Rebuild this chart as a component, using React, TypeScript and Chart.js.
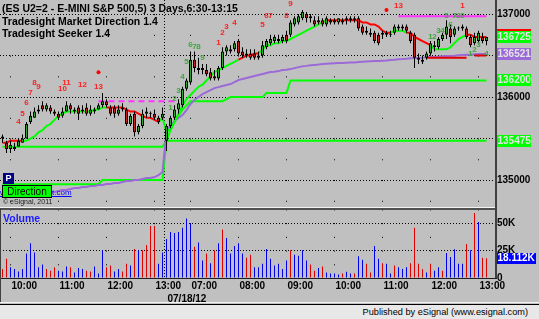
import React, { useEffect, useRef } from 'react';
import { Chart, registerables } from 'chart.js';

Chart.register(...registerables);

const FONT = '"Liberation Sans", Arial, Helvetica, sans-serif';

// ---------- time axis (bar index positions) ----------
const hourTickIdx = [2, 14, 26, 38, 47, 59, 71, 83, 95, 107, 119];
const hourTickLabels = ['10:00', '11:00', '12:00', '13:00', '07:00', '08:00', '09:00', '10:00', '11:00', '12:00', '13:00'];
const dayBreakIdx = 40.5;
const dateTickIdx = 41;
const dateLabel = '07/18/12';
const priceTicks = [135000, 135500, 136000, 136500, 137000];
const volumeTicks = [0, 25000, 50000];

// ---------- OHLC (5 min bars) ----------
const openP = [
  135500, 135450, 135375, 135400, 135400, 135450, 135500, 135700, 135750, 135825,
  135900, 135850, 135875, 135825, 135800, 135775, 135825, 135900, 135850, 135875,
  135825, 135875, 135800, 135850, 135850, 135900, 135950, 135875, 135875, 135800,
  135850, 135850, 135675, 135800, 135575, 135650, 135800, 135800, 135800, 135750,
  135750,
  135475, 135650, 135750, 135850, 135900, 136100, 136175, 136450, 136350, 136325,
  136325, 136300, 136250, 136225, 136350, 136550, 136575, 136575, 136675, 136550,
  136525, 136525, 136525, 136475, 136500, 136600, 136650, 136675, 136700, 136675,
  136750, 136750, 136875, 136900, 136950, 137000, 136975, 136925, 136925, 136925,
  136875, 136900, 136925, 136900, 136925, 136925, 136950, 136925, 136950, 136850,
  136800, 136775, 136775, 136750, 136750, 136775, 136750, 136775, 136825, 136850,
  136850, 136775, 136750, 136475, 136450, 136475, 136525, 136625, 136600, 136700,
  136750, 136825, 136750, 136825, 136825, 136825, 136725, 136650, 136675, 136725,
  136675,
];
const highP = [
  135550, 135475, 135475, 135450, 135500, 135550, 135700, 135825, 135875, 135900,
  135950, 135925, 135900, 135850, 135825, 135875, 135950, 135925, 135875, 135900,
  135900, 135925, 135900, 135875, 135925, 136050, 135975, 135900, 135900, 135900,
  135925, 135875, 135800, 135825, 135675, 135850, 135875, 135825, 135850, 135775,
  135875,
  135675, 135775, 135900, 135975, 136125, 136225, 136550, 136550, 136475, 136400,
  136400, 136350, 136325, 136375, 136600, 136625, 136625, 136675, 136700, 136600,
  136575, 136575, 136575, 136550, 136675, 136700, 136750, 136750, 136750, 136750,
  136800, 136925, 136975, 137000, 137050, 137025, 137000, 136975, 136975, 136950,
  136975, 136950, 136950, 136950, 136950, 136975, 136975, 136975, 136975, 136875,
  136850, 136825, 136800, 136775, 136800, 136800, 136800, 136875, 136875, 136875,
  136875, 136800, 136775, 136525, 136500, 136550, 136675, 136675, 136725, 136775,
  136925, 136875, 136850, 136850, 136875, 136850, 136750, 136775, 136800, 136775,
  136725,
];
const lowP = [
  135450, 135325, 135325, 135350, 135400, 135450, 135500, 135675, 135750, 135800,
  135825, 135825, 135800, 135775, 135725, 135750, 135825, 135800, 135800, 135725,
  135800, 135775, 135775, 135800, 135850, 135875, 135875, 135775, 135750, 135775,
  135825, 135650, 135650, 135525, 135550, 135625, 135750, 135750, 135725, 135675,
  135725,
  135350, 135625, 135725, 135800, 135875, 136075, 136150, 136300, 136275, 136275,
  136250, 136200, 136200, 136200, 136325, 136500, 136525, 136550, 136500, 136475,
  136475, 136450, 136450, 136450, 136475, 136575, 136625, 136650, 136650, 136650,
  136650, 136725, 136850, 136875, 136925, 136900, 136900, 136850, 136875, 136850,
  136850, 136875, 136875, 136875, 136875, 136875, 136900, 136900, 136800, 136750,
  136750, 136725, 136650, 136625, 136700, 136725, 136725, 136750, 136800, 136800,
  136775, 136650, 136350, 136400, 136400, 136450, 136500, 136550, 136575, 136675,
  136700, 136650, 136725, 136800, 136800, 136700, 136600, 136625, 136650, 136650,
  136625,
];
const closeP = [
  135525, 135375, 135425, 135375, 135475, 135500, 135675, 135775, 135825, 135850,
  135850, 135900, 135825, 135800, 135750, 135825, 135900, 135850, 135825, 135800,
  135850, 135800, 135850, 135825, 135900, 135950, 135900, 135800, 135800, 135850,
  135875, 135675, 135775, 135575, 135650, 135800, 135825, 135800, 135750, 135700,
  135800,
  135650, 135750, 135850, 135925, 136100, 136200, 136450, 136350, 136325, 136350,
  136275, 136225, 136225, 136350, 136550, 136600, 136550, 136650, 136525, 136500,
  136500, 136475, 136475, 136500, 136625, 136675, 136700, 136725, 136675, 136725,
  136675, 136900, 136950, 136975, 137025, 136950, 136950, 136875, 136900, 136875,
  136950, 136925, 136900, 136950, 136900, 136950, 136925, 136950, 136825, 136775,
  136775, 136750, 136675, 136650, 136775, 136750, 136750, 136850, 136850, 136825,
  136800, 136675, 136475, 136450, 136425, 136525, 136650, 136600, 136700, 136750,
  136850, 136725, 136825, 136825, 136850, 136725, 136625, 136725, 136775, 136675,
  136725,
];

// ---------- volume ----------
const volume = [
  8200, 17600, 9700, 8200, 5900, 8200, 22300, 31700, 23200, 9700,
  12200, 8200, 6600, 9700, 6600, 5900, 10400, 9700, 5000, 9100,
  8200, 6600, 5900, 10400, 4100, 25400, 9700, 11300, 5900, 8200,
  5900, 12900, 11300, 26400, 25400, 25400, 30100, 47400, 47400, 12900,
  23200,
  35500, 42000, 41100, 42000, 45800, 54300, 49900, 28500, 32300, 16000,
  22300, 13500, 25400, 31700, 44200, 36400, 22300, 29200, 31700, 22300,
  18500, 21300, 9700, 9700, 12900, 26400,
  17600, 11300, 12900, 8200, 16000, 25400, 21300, 20400, 25400, 16000,
  12200, 6600, 9100, 10400, 5000, 4100, 4100, 3100, 4100, 5600,
  4100, 4100, 19800, 16600, 12900, 5000, 29200, 17600, 13500, 12900,
  4100, 11300, 9700, 8200, 9700, 13500, 45800, 12900, 8200, 5000,
  12900, 6600, 9700, 6600, 22900, 19100, 26100, 12900, 12900, 31100,
  25400, 59300, 51100, 18500, 18112,
];
// u = up tick volume (blue), d = down tick volume (red)
const volumeSide = (
  'dduuuuuuuuudddu' + 'uudu' + 'uudduuudduuddududdddu' + 'u' +
  'uuuuuuuduudududuuuuudduuuuuu' +
  'uuuduuuudduduuuuduuduudduuduuduuuddddudu' + 'udu' + 'uuuudududduu'
).split('');

// ---------- Tradesight Market Direction trail ----------
const trail = [
  135450, 135450, 135475, 135475, 135475, 135475, 135475, 135500, 135525, 135575,
  135600, 135650, 135675, 135725, 135775, 135800, 135825, 135825, 135825, 135825,
  135825, 135825, 135825, 135850, 135850, 135875, 135875, 135875, 135875, 135875,
  135875, 135850, 135825, 135825, 135800, 135775, 135750, 135750, 135725, 135700,
  135750,
  135575, 135625, 135700, 135800, 135900, 135975, 136025, 136075, 136125, 136150,
  136200, 136250, 136300, 136325, 136350, 136375, 136400, 136425, 136450, 136475,
  136500, 136500, 136525, 136525, 136575, 136625, 136625, 136650, 136650, 136675,
  136675, 136700, 136725, 136750, 136775, 136800, 136825, 136850, 136875, 136900,
  136925, 136925, 136925, 136925, 136925, 136925, 136925, 136925, 136925, 136900,
  136900, 136875, 136875, 136850, 136800, 136775, 136775, 136800, 136800, 136800,
  136775, 136775, 136725, 136700, 136675, 136650, 136625, 136575, 136575, 136575,
  136575, 136600, 136650, 136700, 136725, 136750, 136750, 136725, 136725, 136725,
  136725,
];
// [fromIndex, toIndex, direction] 1 = long (green), -1 = short (red)
const trailDirSteps = [
  [0, 5, -1], [6, 26, 1], [27, 39, -1], [40, 59, 1], [60, 64, -1], [65, 81, 1],
  [82, 97, -1], [98, 101, 1], [102, 107, -1], [108, 116, 1], [117, 121, -1],
];

// ---------- VWAP-style purple line ----------
const vwap = [
  134795, 134795, 134807, 134807, 134807, 134819, 134819, 134819, 134831, 134831,
  134831, 134843, 134843, 134855, 134867, 134879, 134879, 134891, 134903, 134903,
  134916, 134916, 134928, 134928, 134940, 134940, 134952, 134952, 134964, 134964,
  134976, 134988, 134988, 135000, 135000, 135012, 135024, 135024, 135036, 135060,
  135096,
  135590, 135663, 135711, 135747, 135783, 135843, 135916, 135964, 136000, 136036,
  136060, 136084, 136108, 136120, 136133, 136145, 136157, 136181, 136205, 136217,
  136229, 136241, 136253, 136265, 136277, 136289, 136301, 136305, 136313, 136325,
  136329, 136337, 136349, 136361, 136370, 136376, 136384, 136388, 136392, 136398,
  136401, 136404, 136408, 136410, 136412, 136414, 136416, 136418, 136422, 136425,
  136428, 136431, 136434, 136436, 136438, 136440, 136446, 136450, 136456, 136458,
  136462, 136468, 136470, 136472, 136474, 136480, 136482, 136484, 136486, 136492,
  136494, 136496, 136498, 136505, 136507, 136509, 136511, 136515, 136518, 136520,
  136521,
];

// ---------- Seeker levels: [fromIndex, toIndex, price] ----------
const levelASteps = [[0, 40, 135400], [41, 121, 135475]];
const levelBSteps = [
  [0, 24, 134950], [25, 40, 135000], [41, 41, 135475], [42, 42, 135600], [43, 43, 135700],
  [44, 44, 135775], [45, 45, 135850], [46, 46, 135900], [47, 55, 135950], [56, 56, 135975],
  [57, 65, 136000], [66, 71, 136050], [72, 121, 136200],
];
const magentaDashSteps = [[24, 43, 135950]];
const magentaSolidSteps = [[99, 121, 136975]];
const seekerRedSteps = [[106, 116, 136475], [118, 121, 136500]];

// ---------- bar count labels ----------
const sigIdx = [
  4, 5, 6, 7, 8, 9, 15, 16, 20, 24,
  42, 43, 44, 45, 46, 47, 48, 49, 50,
  54, 55, 56, 58, 65, 66, 67, 71, 72, 99, 115,
  107, 108, 109, 110, 111, 112, 113, 114, 115,
  117, 118, 119, 121,
];
const sigPrice = [
  135700, 135800, 135925, 136050, 136175, 136125, 136100, 136175, 136150, 136125,
  135875, 135975, 136075, 136250, 136425, 136625, 136600, 136600, 136475,
  136650, 136775, 136850, 136900, 136875, 136975, 136975, 136975, 137125, 137100, 137100,
  136725, 136725, 136800, 136800, 136975, 136875, 136975, 136975, 136975,
  136525, 136575, 136625, 136525,
];
const sigText = [
  '4', '5', '6', '7', '8', '9', '10', '11', '12', '13',
  '1', '2', '3', '4', '5', '6', '7', '8', '9',
  '1', '2', '3', '4', '5', '6', '7', '8', '9', '13', '1',
  '1', '2', '3', '4', '5', '6', '7', '8', '9',
  '1', '2', '3', '4',
];
const sigKind = ('rrrrrrrrrr' + 'ggggggggg' + 'rrrrrrrrrrr' + 'ggggggggg' + 'gggg').split('');
const dotIdx = [24, 96];
const dotPrice = [136300, 137050];

// ---------- helpers ----------
const N = closeP.length;
const X_MIN = -0.625;
const X_MAX = X_MIN + 123.75;
const P_MIN = 134675;
const P_MAX = 137170;
const V_MAX = 62000;

function fromSteps(steps: number[][]) {
  const out: (number | null)[] = new Array(N).fill(null);
  for (const [a, b, v] of steps) for (let i = a; i <= b; i++) out[i] = v;
  return out;
}
const trailDir = fromSteps(trailDirSteps);
const levelA = fromSteps(levelASteps);
const levelB = fromSteps(levelBSteps);
const magentaDash = fromSteps(magentaDashSteps);
const magentaSolid = fromSteps(magentaSolidSteps);
const seekerRed = fromSteps(seekerRedSteps);
const xy = (arr: (number | null)[]) => arr.map((v, i) => ({ x: i, y: v }));

const GREEN = '#00ff00';
const RED = '#ff0000';
const PURPLE = '#9c6ad8';
const MAGENTA = '#ff33ff';
const UP_BODY = '#2ea82e';
const DN_BODY = '#c81e1e';

const xTickValues = [...hourTickIdx, dayBreakIdx, dateTickIdx].sort((a, b) => a - b);
function xLabel(v: number) {
  const k = hourTickIdx.indexOf(v);
  if (k >= 0) return hourTickLabels[k];
  if (v === dateTickIdx) return ['', dateLabel];
  return '';
}

function xAxis(showLabels: boolean, yId: string, step: number, ref: number) {
  const period = (c: any) => {
    const ys = c.chart.scales[yId];
    return Math.abs(ys.getPixelForValue(ref) - ys.getPixelForValue(ref - step));
  };
  return {
    type: 'linear',
    position: 'bottom',
    min: X_MIN,
    max: X_MAX,
    offset: false,
    afterBuildTicks: (s: any) => {
      s.ticks = xTickValues.map((v) => ({ value: v }));
    },
    afterFit: (s: any) => {
      s.height = showLabels ? 24 : 0;
      s.paddingLeft = 0;
      s.paddingRight = 0;
    },
    ticks: {
      display: showLabels,
      autoSkip: false,
      maxRotation: 0,
      minRotation: 0,
      align: 'start',
      padding: 2,
      labelOffset: 1,
      color: '#000',
      font: { family: FONT, size: 10, weight: 'bold', lineHeight: 1.3 },
      callback: (v: number) => xLabel(v),
    },
    grid: {
      offset: false,
      drawTicks: false,
      lineWidth: 1,
      color: (c: any) => (c.tick && c.tick.value === dateTickIdx ? 'rgba(0,0,0,0)' : '#000'),
    },
    border: {
      display: false,
      dash: (c: any) => {
        if (c.tick && c.tick.value === dayBreakIdx) return [1, 2];
        return [1, Math.max(1, period(c) - 1)];
      },
      dashOffset: (c: any) => {
        if (c.tick && c.tick.value === dayBreakIdx) return 0;
        const p = period(c);
        const rel = c.chart.scales[yId].getPixelForValue(ref) - c.chart.chartArea.top;
        return p - (rel % p);
      },
    },
  };
}

const signalPlugin = {
  id: 'signalLabels',
  afterDatasetsDraw(chart: any) {
    const { ctx, scales } = chart;
    ctx.save();
    ctx.font = `bold 8px ${FONT}`;
    ctx.textAlign = 'center';
    ctx.textBaseline = 'middle';
    sigIdx.forEach((idx, k) => {
      ctx.fillStyle = sigKind[k] === 'r' ? '#ff1e1e' : '#3aa83a';
      ctx.fillText(sigText[k], scales.x.getPixelForValue(idx), scales.y.getPixelForValue(sigPrice[k]));
    });
    ctx.restore();
  },
};

const priceTagPlugin = {
  id: 'priceTags',
  afterDraw(chart: any) {
    const { ctx, chartArea, scales } = chart;
    const last = N - 1;
    const tags = [
      { v: levelA[last] as number, bg: GREEN, top: '' },
      { v: levelB[last] as number, bg: GREEN, top: '' },
      { v: vwap[last], bg: PURPLE, top: '' },
      { v: closeP[last], bg: GREEN, top: RED },
    ];
    ctx.save();
    ctx.font = `bold 10px ${FONT}`;
    ctx.textAlign = 'left';
    ctx.textBaseline = 'middle';
    for (const t of tags) {
      const py = Math.round(scales.y.getPixelForValue(t.v));
      const x0 = chartArea.right + 2;
      ctx.fillStyle = t.bg;
      ctx.fillRect(x0, py - 6, 34, 12);
      if (t.top) {
        ctx.fillStyle = t.top;
        ctx.fillRect(x0, py - 8, 34, 2);
      }
      ctx.fillStyle = '#e4e4e4';
      ctx.fillText(String(Math.round(t.v)), x0 + 0.5, py + 0.5);
    }
    ctx.restore();
  },
};

const volumeTagPlugin = {
  id: 'volumeTag',
  afterDraw(chart: any) {
    const { ctx, chartArea, scales } = chart;
    const v = volume[N - 1];
    const py = Math.round(scales.y.getPixelForValue(v));
    const x0 = chartArea.right + 2;
    ctx.save();
    ctx.fillStyle = '#0000ff';
    ctx.fillRect(x0, py - 5, 39, 11);
    ctx.font = `bold 10px ${FONT}`;
    ctx.fillStyle = '#ffffff';
    ctx.textAlign = 'left';
    ctx.textBaseline = 'middle';
    ctx.fillText((v / 1000).toFixed(3) + 'K', x0 + 0.5, py + 0.5);
    ctx.restore();
  },
};

const common = {
  responsive: false,
  maintainAspectRatio: false,
  animation: false,
  devicePixelRatio: 1,
  events: [],
  layout: { padding: 0, autoPadding: false },
  plugins: { legend: { display: false }, tooltip: { enabled: false } },
};

function lineDs(label: string, arr: (number | null)[], color: string, order: number, extra: any = {}) {
  return {
    type: 'line',
    label,
    data: xy(arr),
    borderColor: color,
    borderWidth: 2,
    pointRadius: 0,
    tension: 0,
    spanGaps: false,
    order,
    ...extra,
  };
}

function mainConfig(): any {
  const idx = closeP.map((_, i) => i);
  return {
    type: 'line',
    data: {
      datasets: [
        {
          type: 'line',
          label: 'signal',
          data: dotIdx.map((v, k) => ({ x: v, y: dotPrice[k] })),
          showLine: false,
          pointRadius: 2,
          pointBackgroundColor: '#ff0000',
          pointBorderWidth: 0,
          order: 0,
        },
        {
          type: 'bar',
          label: 'body',
          data: idx.map((i) => ({ x: i, y: [openP[i], closeP[i]] })),
          backgroundColor: idx.map((i) => (closeP[i] >= openP[i] ? UP_BODY : DN_BODY)),
          borderColor: '#000',
          borderWidth: 1,
          borderSkipped: false,
          barThickness: 3,
          grouped: false,
          minBarLength: 1,
          inflateAmount: 0,
          order: 1,
        },
        {
          type: 'bar',
          label: 'wick',
          data: idx.map((i) => ({ x: i, y: [lowP[i], highP[i]] })),
          backgroundColor: '#000',
          borderWidth: 0,
          barThickness: 1,
          grouped: false,
          inflateAmount: 0,
          order: 2,
        },
        lineDs('trail', trail, GREEN, 3, {
          segment: { borderColor: (c: any) => ((trailDir[c.p1DataIndex] as number) > 0 ? GREEN : RED) },
        }),
        lineDs('seekerRed', seekerRed, '#e00000', 4),
        lineDs('vwap', vwap, PURPLE, 5),
        lineDs('magentaDash', magentaDash, MAGENTA, 6, { borderDash: [6, 4] }),
        lineDs('magentaSolid', magentaSolid, MAGENTA, 6),
        lineDs('levelA', levelA, GREEN, 7),
        lineDs('levelB', levelB, GREEN, 7),
      ],
    },
    options: {
      ...common,
      scales: {
        x: xAxis(false, 'y', 250, 137000),
        y: {
          type: 'linear',
          position: 'right',
          min: P_MIN,
          max: P_MAX,
          afterBuildTicks: (s: any) => {
            s.ticks = priceTicks.map((v) => ({ value: v }));
          },
          afterFit: (s: any) => {
            s.width = 44;
            s.paddingTop = 0;
            s.paddingBottom = 0;
          },
          ticks: {
            padding: 2,
            color: '#000',
            font: { family: FONT, size: 10, weight: 'bold' },
            callback: (v: number) => (v % 1000 === 0 ? String(v) : ''),
          },
          grid: { drawTicks: false, color: '#000', lineWidth: 1 },
          border: { display: false, dash: [1, 2] },
        },
      },
    },
    plugins: [signalPlugin, priceTagPlugin],
  };
}

function volConfig(): any {
  return {
    type: 'line',
    data: {
      datasets: [
        {
          type: 'bar',
          label: 'Volume',
          data: volume.map((v, i) => ({ x: i, y: v })),
          backgroundColor: volumeSide.map((s) => (s === 'u' ? '#0000f0' : '#e00000')),
          borderWidth: 0,
          barThickness: 1,
          grouped: false,
          inflateAmount: 0,
        },
      ],
    },
    options: {
      ...common,
      scales: {
        x: xAxis(true, 'y', 12500, 37500),
        y: {
          type: 'linear',
          position: 'right',
          min: 0,
          max: V_MAX,
          afterBuildTicks: (s: any) => {
            s.ticks = volumeTicks.map((v) => ({ value: v }));
          },
          afterFit: (s: any) => {
            s.width = 44;
            s.paddingTop = 0;
            s.paddingBottom = 0;
          },
          ticks: {
            padding: 2,
            color: '#000',
            font: { family: FONT, size: 10, weight: 'bold' },
            callback: (v: number) => (v === 0 ? '0' : v / 1000 + 'K'),
          },
          grid: {
            drawTicks: false,
            lineWidth: 1,
            color: (c: any) => (c.tick && c.tick.value === 0 ? 'rgba(0,0,0,0)' : '#000'),
          },
          border: { display: false, dash: [1, 2] },
        },
      },
    },
    plugins: [volumeTagPlugin],
  };
}

export default function App() {
  const mainRef = useRef<HTMLCanvasElement>(null);
  const volRef = useRef<HTMLCanvasElement>(null);

  useEffect(() => {
    Chart.defaults.font.family = FONT;
    const main = new Chart(mainRef.current as HTMLCanvasElement, mainConfig());
    const vol = new Chart(volRef.current as HTMLCanvasElement, volConfig());
    return () => {
      main.destroy();
      vol.destroy();
    };
  }, []);

  const abs = (s: any) => ({ position: 'absolute', ...s });

  return (
    <div style={{ position: 'fixed', left: 0, top: 0, width: 539, height: 319, background: '#c0c0c0', overflow: 'hidden', fontFamily: FONT }}>
      <canvas ref={mainRef} width={539} height={207} style={abs({ left: 0, top: 0, width: 539, height: 207 })} />
      <canvas ref={volRef} width={539} height={92} style={abs({ left: 0, top: 210, width: 539, height: 92 })} />

      <div style={abs({ left: 2, top: 2, font: `bold 10.5px ${FONT}`, lineHeight: '12.5px', color: '#000', whiteSpace: 'pre' })}>
        <div>{'(ES U2=2 - E-MINI S&P 500,5) 3 Days,6:30-13:15'}</div>
        <div>Tradesight Market Direction 1.4</div>
        <div>Tradesight Seeker 1.4</div>
      </div>

      {/* frame lines */}
      <div style={abs({ left: 0, top: 207, width: 497, height: 1, background: '#f4f4f4' })} />
      <div style={abs({ left: 0, top: 208, width: 497, height: 2, background: '#505050' })} />
      <div style={abs({ left: 495, top: 0, width: 2, height: 279, background: '#404040' })} />
      <div style={abs({ left: 0, top: 278, width: 497, height: 1, background: '#202020' })} />
      <div style={abs({ left: 0, top: 208, width: 1, height: 94, background: '#404040' })} />
      <div style={abs({ left: 0, top: 302, width: 539, height: 1, background: '#f4f4f4' })} />
      <div style={abs({ left: 0, top: 304, width: 539, height: 1, background: '#000' })} />
      <div style={abs({ left: 0, top: 305, width: 539, height: 14, background: '#e8e8e8' })} />
      <div style={abs({ right: 11, top: 306, font: `9.2px ${FONT}`, lineHeight: '12px', color: '#000', whiteSpace: 'pre' })}>
        Published by eSignal (www.esignal.com)
      </div>

      {/* direction widgets */}
      <div style={abs({ left: 0, top: 188, width: 58, textAlign: 'right', font: `8px ${FONT}`, lineHeight: '9px', color: '#0000ff', textDecoration: 'underline', whiteSpace: 'pre' })}>
        www.tradesight.com
      </div>
      <div style={abs({ left: 3, top: 173, width: 11, height: 11, background: '#000080', color: '#fff', font: `bold 9px ${FONT}`, lineHeight: '11px', textAlign: 'center' })}>P</div>
      <div style={abs({ left: 2, top: 185, width: 48, height: 11, background: GREEN, border: '1px solid #000', color: '#000', font: `10px ${FONT}`, lineHeight: '11px', textAlign: 'center' })}>Direction</div>
      <div style={abs({ left: 3, top: 198, font: `7px ${FONT}`, lineHeight: '8px', color: '#202020', whiteSpace: 'pre' })}>© eSignal, 2011</div>

      <div style={abs({ left: 3, top: 212, font: `bold 10.5px ${FONT}`, lineHeight: '12px', color: '#1a1aff' })}>Volume</div>
    </div>
  );
}
